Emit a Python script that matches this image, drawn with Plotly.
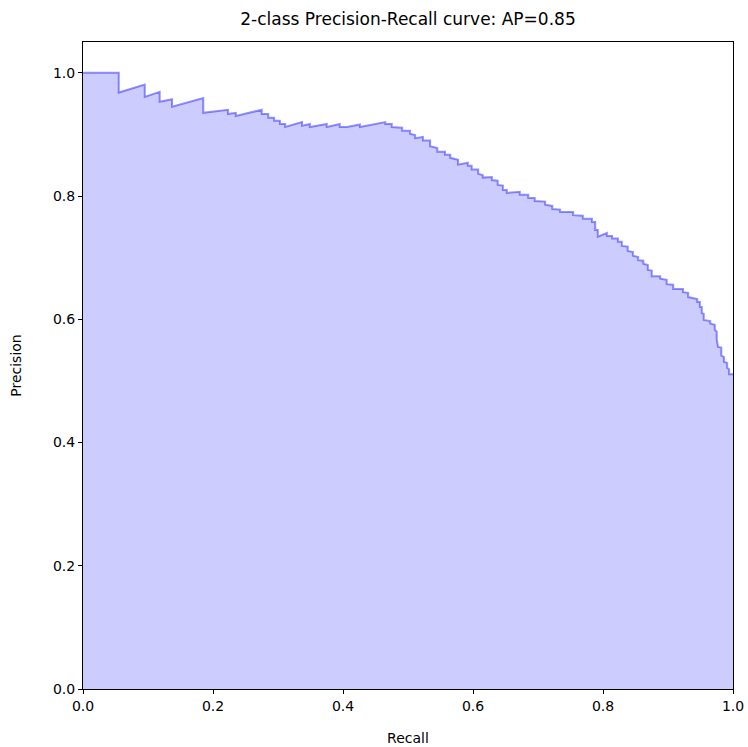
import plotly.graph_objects as go

recall = [0.0, 0.055, 0.055, 0.095, 0.095, 0.118, 0.118, 0.137, 0.137, 0.185, 0.185,
          0.223, 0.223, 0.235, 0.235, 0.272, 0.275, 0.275, 0.285, 0.285, 0.294, 0.294,
          0.303, 0.303, 0.311, 0.311, 0.337, 0.337, 0.349, 0.349, 0.375, 0.375, 0.395,
          0.395, 0.406, 0.426, 0.426, 0.465, 0.465, 0.475, 0.475, 0.491, 0.491, 0.503,
          0.503, 0.511, 0.511, 0.523, 0.523, 0.534, 0.534, 0.545, 0.545, 0.557, 0.557,
          0.565, 0.565, 0.577, 0.577, 0.592, 0.592, 0.598, 0.598, 0.608, 0.608, 0.615,
          0.615, 0.629, 0.629, 0.638, 0.638, 0.646, 0.646, 0.652, 0.652, 0.672, 0.672,
          0.685, 0.685, 0.695, 0.695, 0.711, 0.711, 0.722, 0.722, 0.734, 0.734, 0.754,
          0.754, 0.769, 0.769, 0.783, 0.783, 0.788, 0.788, 0.792, 0.792, 0.806, 0.806,
          0.814, 0.814, 0.823, 0.823, 0.829, 0.829, 0.838, 0.838, 0.846, 0.846, 0.854,
          0.854, 0.862, 0.862, 0.869, 0.869, 0.875, 0.875, 0.888, 0.888, 0.898, 0.898,
          0.908, 0.908, 0.923, 0.923, 0.931, 0.931, 0.945, 0.945, 0.949, 0.949, 0.952,
          0.952, 0.955, 0.955, 0.965, 0.965, 0.972, 0.972, 0.975, 0.975, 0.977, 0.982,
          0.982, 0.986, 0.986, 0.991, 0.991, 0.994, 0.994, 1.0]
precision = [1.0, 1.0, 0.968, 0.981, 0.961, 0.969, 0.953, 0.957, 0.945, 0.959, 0.935,
             0.940, 0.933, 0.935, 0.930, 0.940, 0.940, 0.933, 0.933, 0.927, 0.927, 0.922,
             0.922, 0.917, 0.917, 0.912, 0.920, 0.914, 0.917, 0.912, 0.917, 0.912, 0.917,
             0.912, 0.912, 0.916, 0.912, 0.920, 0.917, 0.917, 0.912, 0.911, 0.906, 0.906,
             0.901, 0.899, 0.894, 0.896, 0.890, 0.890, 0.881, 0.878, 0.872, 0.872, 0.867,
             0.867, 0.862, 0.859, 0.851, 0.854, 0.849, 0.849, 0.843, 0.843, 0.836, 0.834,
             0.830, 0.831, 0.826, 0.825, 0.818, 0.817, 0.810, 0.810, 0.805, 0.807, 0.802,
             0.802, 0.797, 0.797, 0.792, 0.791, 0.786, 0.784, 0.779, 0.778, 0.774, 0.774,
             0.769, 0.768, 0.763, 0.763, 0.758, 0.758, 0.745, 0.745, 0.734, 0.740, 0.735,
             0.735, 0.731, 0.731, 0.726, 0.726, 0.719, 0.718, 0.711, 0.709, 0.703, 0.701,
             0.696, 0.695, 0.690, 0.688, 0.680, 0.679, 0.670, 0.670, 0.666, 0.664, 0.657,
             0.656, 0.649, 0.649, 0.644, 0.643, 0.636, 0.633, 0.628, 0.628, 0.620, 0.620,
             0.610, 0.609, 0.599, 0.597, 0.593, 0.591, 0.583, 0.580, 0.567, 0.555, 0.554,
             0.541, 0.539, 0.531, 0.529, 0.521, 0.519, 0.511, 0.511]

ap = 0.85
x_ticks = [0.0, 0.2, 0.4, 0.6, 0.8, 1.0]
y_ticks = [0.0, 0.2, 0.4, 0.6, 0.8, 1.0]

font = "DejaVu Sans"

fig = go.Figure()
fig.add_trace(go.Scatter(
    x=recall, y=precision, mode="lines",
    line=dict(color="rgba(0,0,255,0.42)", width=2),
    fill="tozeroy", fillcolor="rgba(0,0,255,0.2)",
    showlegend=False, hoverinfo="skip",
))

axis_common = dict(
    showline=True, linecolor="black", linewidth=1, mirror=True,
    ticks="outside", ticklen=4, tickcolor="black", tickwidth=1,
    showgrid=False, zeroline=False, automargin=False,
    tickfont=dict(family=font, size=14, color="black"),
    tickformat=".1f",
)

fig.update_layout(
    width=748, height=747,
    margin=dict(l=83, r=15, t=42, b=58, autoexpand=False),
    paper_bgcolor="white", plot_bgcolor="white",
    font=dict(family=font, size=14, color="black"),
    title=dict(text="2-class Precision-Recall curve: AP={0:0.2f}".format(ap),
               x=0.5, xref="paper", xanchor="center",
               y=1 - 19 / 747, yref="container", yanchor="middle",
               font=dict(family=font, size=17, color="black")),
    xaxis=dict(range=[0, 1], tickvals=x_ticks,
               title=dict(text="Recall", standoff=20,
                          font=dict(family=font, size=14, color="black")),
               **axis_common),
    yaxis=dict(range=[0, 1.05], tickvals=y_ticks,
               title=dict(text="Precision", standoff=28,
                          font=dict(family=font, size=14, color="black")),
               **axis_common),
)

fig.write_html("out.html")
